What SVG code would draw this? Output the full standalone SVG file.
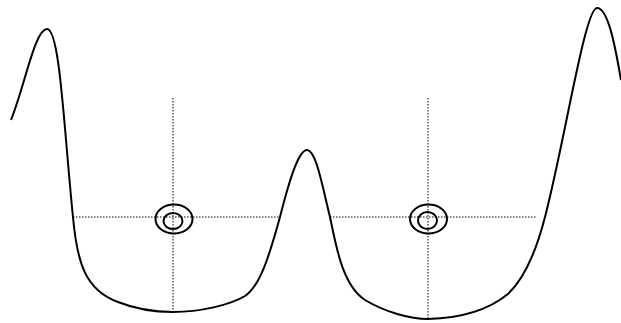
<svg xmlns="http://www.w3.org/2000/svg" width="621" height="323" viewBox="0 0 621 323">
<style>
.curve{fill:none;stroke:#000;stroke-width:2}
.dot{fill:none;stroke:#000;stroke-width:1;stroke-dasharray:1.5 1.5}
.ring{fill:none;stroke:#000;stroke-width:2}
</style>
<rect width="621" height="323" fill="#fff"/>
<g id="connectors">
<line class="dot" x1="73" y1="217" x2="280" y2="217"/>
<line class="dot" x1="330" y1="217" x2="537" y2="217"/>
<line class="dot" x1="173" y1="98" x2="173" y2="311"/>
<line class="dot" x1="428" y1="98" x2="428" y2="318"/>
</g>
<g id="curve">
<path class="curve" d="M11 120 C25 85 35 29 47 29 C60 29 64 130 73 217 C77 262 85 290 118 302 C138 310 158 312 173 312 C200 312 230 305 245 296 C262 285 272 245 280 217 C288 185 298 150 307 150 C316 150 322 185 330 217 C336 245 342 285 365 300 C385 312 410 319 428 319 C468 318 492 307 508 294 C525 278 537 248 545 217 C565 140 585 8 597 8 C608 8 615 45 621 80"/>
</g>
<g id="target-left">
<ellipse class="ring" cx="174" cy="219" rx="18.5" ry="14.5"/>
<ellipse class="ring" cx="173" cy="221" rx="9.5" ry="8"/>
</g>
<g id="target-right">
<ellipse class="ring" cx="428.5" cy="219" rx="18.5" ry="14.5"/>
<ellipse class="ring" cx="427.5" cy="220.5" rx="9.5" ry="8.5"/>
</g>
</svg>
